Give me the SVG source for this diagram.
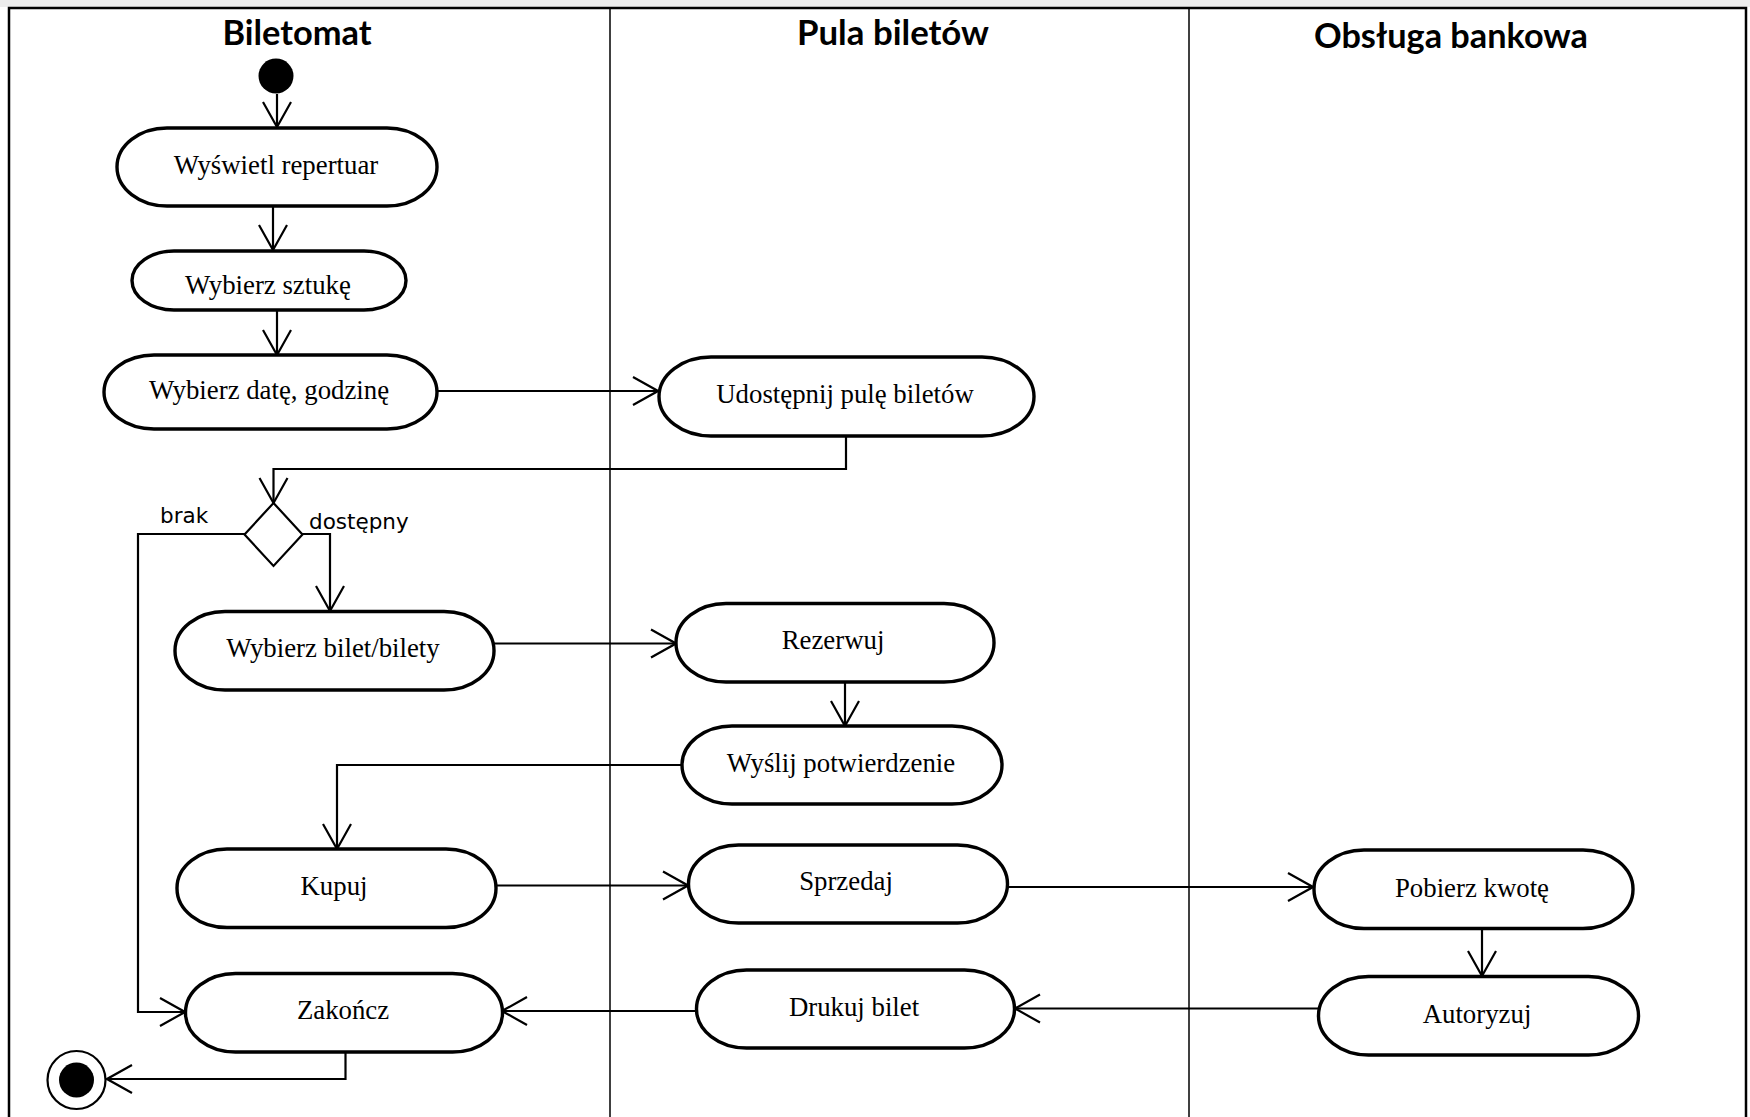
<svg xmlns="http://www.w3.org/2000/svg" width="1750" height="1117" viewBox="0 0 1750 1117">
<style>
.node{fill:#fff;stroke:#000;stroke-width:3.4}
.lbl{font-family:"Liberation Serif","Times New Roman",serif;font-size:26.8px;fill:#000;text-anchor:middle}
.title{font-family:Lato,"Liberation Sans",sans-serif;font-weight:bold;font-size:34px;fill:#000;text-anchor:middle}
.guard{font-family:"DejaVu Sans",sans-serif;font-size:21.5px;fill:#000}
.conn{fill:none;stroke:#000;stroke-width:2.2;marker-end:url(#arr)}
.lane{stroke:#000;stroke-width:1.5;fill:none}
</style>
<defs>
<marker id="arr" markerUnits="userSpaceOnUse" viewBox="0 0 28 32" refX="26" refY="16" markerWidth="28" markerHeight="32" orient="auto">
<path d="M1,2 L26,16 L1,30" fill="none" stroke="#000" stroke-width="2.2"/>
</marker>
</defs>
<rect x="0" y="0" width="1750" height="1117" fill="#fff"/>
<rect x="0" y="0" width="1750" height="7" fill="#ececec"/>
<g id="frame">
<path class="lane" d="M9,1125 V8 H1746 V1125" style="stroke-width:2.5"/>
<line class="lane" x1="610" y1="8" x2="610" y2="1117"/>
<line class="lane" x1="1189" y1="8" x2="1189" y2="1117"/>
<text class="title" x="297" y="45" textLength="149" lengthAdjust="spacingAndGlyphs">Biletomat</text>
<text class="title" x="893" y="45" textLength="192" lengthAdjust="spacingAndGlyphs">Pula biletów</text>
<text class="title" x="1451" y="48" textLength="274" lengthAdjust="spacingAndGlyphs">Obsługa bankowa</text>
</g>
<g id="connectors">
<path class="conn" d="M277,94 V127"/>
<path class="conn" d="M273,207 V250"/>
<path class="conn" d="M277,311 V355"/>
<path class="conn" d="M438,391 H658"/>
<path class="conn" d="M846,436 V469 H273.5 V503"/>
<path class="conn" d="M245,534 H138 V1012 H185"/>
<path class="conn" d="M302,534 H330 V611"/>
<path class="conn" d="M494,643.5 H676"/>
<path class="conn" d="M845,683 V726"/>
<path class="conn" d="M682,765 H337 V849"/>
<path class="conn" d="M497,885.5 H688"/>
<path class="conn" d="M1008,887 H1313"/>
<path class="conn" d="M1482,929 V976"/>
<path class="conn" d="M1318,1008.5 H1015"/>
<path class="conn" d="M696,1011 H502"/>
<path class="conn" d="M345.5,1052 V1079 H107"/>
<text class="guard" x="160" y="523">brak</text>
<text class="guard" x="309" y="529">dostępny</text>
</g>
<g id="start"><circle cx="276" cy="76" r="17.5" fill="#000"/></g>
<g id="n1"><rect class="node" x="117" y="128" width="320" height="78" rx="50" ry="39"/><text class="lbl" x="276" y="174">Wyświetl repertuar</text></g>
<g id="n2"><rect class="node" x="132" y="251" width="274" height="59" rx="42" ry="29.5"/><text class="lbl" x="268" y="294">Wybierz sztukę</text></g>
<g id="n3"><rect class="node" x="104" y="355" width="333" height="74" rx="50" ry="37"/><text class="lbl" x="269" y="399">Wybierz datę, godzinę</text></g>
<g id="n4"><rect class="node" x="659" y="357" width="375" height="79" rx="52" ry="39.5"/><text class="lbl" x="845" y="403">Udostępnij pulę biletów</text></g>
<g id="decision"><polygon points="273.5,503 302.5,534.5 273.5,566 244.5,534.5" fill="#fff" stroke="#000" stroke-width="2.2"/></g>
<g id="n6"><rect class="node" x="175" y="611.5" width="319" height="78.5" rx="50" ry="39"/><text class="lbl" x="333" y="657">Wybierz bilet/bilety</text></g>
<g id="n7"><rect class="node" x="676" y="603.5" width="318" height="78.5" rx="50" ry="39"/><text class="lbl" x="833" y="649">Rezerwuj</text></g>
<g id="n8"><rect class="node" x="682" y="726" width="320" height="78" rx="50" ry="39"/><text class="lbl" x="841" y="772">Wyślij potwierdzenie</text></g>
<g id="n9"><rect class="node" x="177" y="849" width="319" height="78.5" rx="50" ry="39"/><text class="lbl" x="334" y="895">Kupuj</text></g>
<g id="n10"><rect class="node" x="688.5" y="845" width="319" height="78" rx="50" ry="39"/><text class="lbl" x="846" y="890">Sprzedaj</text></g>
<g id="n11"><rect class="node" x="1314" y="850" width="319" height="78.5" rx="50" ry="39"/><text class="lbl" x="1472" y="897">Pobierz kwotę</text></g>
<g id="n12"><rect class="node" x="185.5" y="973.5" width="317" height="78.5" rx="50" ry="39"/><text class="lbl" x="343" y="1019">Zakończ</text></g>
<g id="n13"><rect class="node" x="696.5" y="970" width="318" height="78" rx="50" ry="39"/><text class="lbl" x="854" y="1016">Drukuj bilet</text></g>
<g id="n14"><rect class="node" x="1318.5" y="976.5" width="320" height="78.5" rx="50" ry="39"/><text class="lbl" x="1477" y="1023">Autoryzuj</text></g>
<g id="end"><circle cx="76.5" cy="1080" r="29" fill="#fff" stroke="#000" stroke-width="2.2"/><circle cx="76.5" cy="1080" r="17.5" fill="#000"/></g>
</svg>
